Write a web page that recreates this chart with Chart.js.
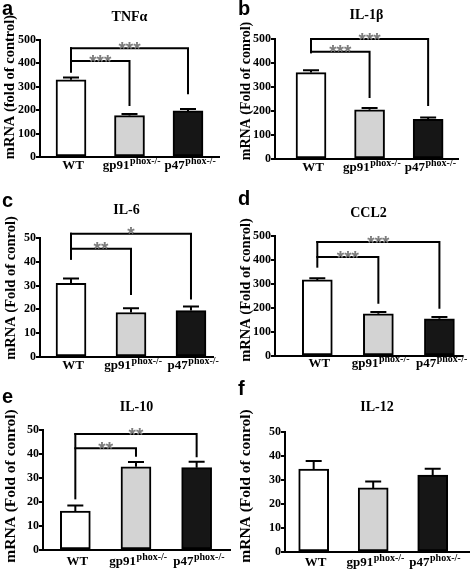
<!DOCTYPE html>
<html>
<head>
<meta charset="utf-8">
<script src="https://cdn.jsdelivr.net/npm/chart.js"></script>
<style>
  body { margin: 0; background: #fff; }
  #wrap { position: relative; width: 472px; height: 573px; overflow: hidden; }
  .cell { position: absolute; }
</style>
</head>
<body>
<div id="wrap"></div>
<script>
// groups on the x axis
const groups = ["WT", "gp91", "p47"];
const groupSup = ["", "phox-/-", "phox-/-"];
const barColors = ["#ffffff", "#d3d3d3", "#161616"];

const ticks500 = [0, 100, 200, 300, 400, 500];
const ticks50 = [0, 10, 20, 30, 40, 50];

// a. TNFa
const tnfMean = [330, 177, 197];
const tnfErr = [10, 7, 8];
const tnfSigTo = [1, 2];
const tnfSigStars = ["***", "***"];
const tnfSigLevel = [410, 465];
const tnfSigDrop = [218, 268];

// b. IL-1b
const il1bMean = [360, 205, 165];
const il1bErr = [10, 7, 8];
const il1bSigTo = [1, 2];
const il1bSigStars = ["***", "***"];
const il1bSigLevel = [447, 500];
const il1bSigDrop = [254, 221];

// c. IL-6
const il6Mean = [31, 18.7, 19.5];
const il6Err = [2, 1.8, 1.7];
const il6SigTo = [1, 2];
const il6SigStars = ["**", "*"];
const il6SigLevel = [45.5, 51.8];
const il6SigDrop = [26, 24.2];

// d. CCL2
const ccl2Mean = [317, 176, 155];
const ccl2Err = [7, 7, 8];
const ccl2SigTo = [1, 2];
const ccl2SigStars = ["***", "***"];
const ccl2SigLevel = [412, 475];
const ccl2SigDrop = [218, 197];

// e. IL-10
const il10Mean = [16.2, 34.7, 34.3];
const il10Err = [2.3, 2, 2.5];
const il10SigTo = [1, 2];
const il10SigStars = ["**", "**"];
const il10SigLevel = [42.4, 48.3];
const il10SigDrop = [38.9, 38.6];

// f. IL-12
const il12Mean = [34.6, 26.7, 32];
const il12Err = [3.3, 2.7, 2.7];

const serif = "'Liberation Serif', 'Times New Roman', serif";

// box = cell [left, top, w, h], plot = [left, top, right, bottom] in page px
// yTitle position = [centre x, centre y] inside the cell
const panels = [
  { letter: "a", title: "TNF\u03b1", yTitle: "mRNA (fold of control)", mean: tnfMean, err: tnfErr, ticks: ticks500,
    sig: { to: tnfSigTo, stars: tnfSigStars, level: tnfSigLevel, drop: tnfSigDrop, start: 360 },
    box: [0, 0, 236, 190], plot: [40, 40, 219, 157], xRange: [-0.53, 2.53],
    titleY: 17, letterY: 15, yTitlePos: [10, 87], yTitleSize: 14.5, labelDy: 9 },
  { letter: "b", title: "IL-1\u03b2", yTitle: "mRNA (Fold of conrol)", mean: il1bMean, err: il1bErr, ticks: ticks500,
    sig: { to: il1bSigTo, stars: il1bSigStars, level: il1bSigLevel, drop: il1bSigDrop, start: 440 },
    box: [236, 0, 236, 190], plot: [275, 39, 458, 159], xRange: [-0.615, 2.51],
    titleY: 15, letterY: 15, yTitlePos: [10, 91], yTitleSize: 14, labelDy: 9 },
  { letter: "c", title: "IL-6", yTitle: "mRNA (Fold of conrol)", mean: il6Mean, err: il6Err, ticks: ticks50,
    sig: { to: il6SigTo, stars: il6SigStars, level: il6SigLevel, drop: il6SigDrop, start: 40.8 },
    box: [0, 190, 236, 190], plot: [40, 238, 213, 357], xRange: [-0.517, 2.367],
    titleY: 20, letterY: 17, yTitlePos: [11, 98], yTitleSize: 14.5, labelDy: 9 },
  { letter: "d", title: "CCL2", yTitle: "mRNA (Fold of conrol)", mean: ccl2Mean, err: ccl2Err, ticks: ticks500,
    sig: { to: ccl2SigTo, stars: ccl2SigStars, level: ccl2SigLevel, drop: ccl2SigDrop, start: 368 },
    box: [236, 190, 236, 190], plot: [275, 236, 462, 356], xRange: [-0.693, 2.37],
    titleY: 23, letterY: 15, yTitlePos: [10, 100], yTitleSize: 14.5, labelDy: 8 },
  { letter: "e", title: "IL-10", yTitle: "mRNA (Fold of conrol)", mean: il10Mean, err: il10Err, ticks: ticks50,
    sig: { to: il10SigTo, stars: il10SigStars, level: il10SigLevel, drop: il10SigDrop, start: 21.1 },
    box: [0, 380, 236, 193], plot: [43, 430, 230, 550], xRange: [-0.533, 2.55],
    titleY: 27, letterY: 23, yTitlePos: [11, 106], yTitleSize: 15.5, labelDy: 12 },
  { letter: "f", title: "IL-12", yTitle: "mRNA (Fold of conrol)", mean: il12Mean, err: il12Err, ticks: ticks50,
    sig: null,
    box: [236, 380, 236, 193], plot: [285, 432, 469, 552], xRange: [-0.482, 2.61],
    titleY: 27, letterY: 15, yTitlePos: [10, 106], yTitleSize: 15.5, labelDy: 11 }
];

// error bars, brackets, x labels with superscripts, titles
const decor = {
  id: "decor",
  afterDatasetsDraw(chart) {
    const p = chart.options.plugins.decor;
    const ctx = chart.ctx, xs = chart.scales.x, ys = chart.scales.y;
    ctx.save();
    ctx.strokeStyle = "#000";
    ctx.lineWidth = 2;
    p.mean.forEach((m, i) => {
      const cx = xs.getPixelForValue(i);
      const y0 = ys.getPixelForValue(m);
      const y1 = ys.getPixelForValue(m + p.err[i]);
      ctx.beginPath();
      ctx.moveTo(cx, y0);
      ctx.lineTo(cx, y1);
      ctx.moveTo(cx - 8, y1);
      ctx.lineTo(cx + 8, y1);
      ctx.stroke();
    });
    ctx.restore();
  },
  afterDraw(chart) {
    const p = chart.options.plugins.decor;
    const ctx = chart.ctx, xs = chart.scales.x, ys = chart.scales.y;
    const area = chart.chartArea;
    ctx.save();

    // significance brackets
    const s = p.sig;
    if (s) {
      const x0 = xs.getPixelForValue(0);
      ctx.strokeStyle = "#000";
      ctx.lineWidth = 2;
      ctx.beginPath();
      ctx.moveTo(x0, ys.getPixelForValue(s.start));
      ctx.lineTo(x0, ys.getPixelForValue(Math.max(...s.level)) - 1);
      ctx.stroke();
      s.to.forEach((t, k) => {
        const xt = xs.getPixelForValue(t);
        const yl = ys.getPixelForValue(s.level[k]);
        ctx.beginPath();
        ctx.moveTo(x0 - 1, yl);
        ctx.lineTo(xt, yl);
        ctx.lineTo(xt, ys.getPixelForValue(s.drop[k]));
        ctx.stroke();
        ctx.fillStyle = "#7d7d7d";
        ctx.font = "bold 19px 'Liberation Sans'";
        ctx.textAlign = "center";
        ctx.textBaseline = "alphabetic";
        ctx.fillText(s.stars[k], (x0 + xt) / 2, yl + 6.5);
      });
    }

    // x labels: name + superscript, centred under each bar
    ctx.fillStyle = "#000";
    ctx.textBaseline = "middle";
    ctx.textAlign = "left";
    const ly = area.bottom + p.labelDy;
    groups.forEach((g, i) => {
      const baseFont = "bold 13px " + serif, supFont = "bold 10px " + serif;
      ctx.font = baseFont;
      const wb = ctx.measureText(g).width;
      ctx.font = supFont;
      const ws = groupSup[i] ? ctx.measureText(groupSup[i]).width : 0;
      const left = xs.getPixelForValue(i) + 2 - (wb + ws) / 2;
      ctx.font = baseFont;
      ctx.fillText(g, left, ly);
      if (groupSup[i]) {
        ctx.font = supFont;
        ctx.fillText(groupSup[i], left + wb + 0.5, ly - 4.5);
      }
    });

    // y axis title
    ctx.save();
    ctx.translate(p.yTitlePos[0], p.yTitlePos[1]);
    ctx.rotate(-Math.PI / 2);
    ctx.font = "bold " + p.yTitleSize + "px " + serif;
    ctx.textAlign = "center";
    ctx.textBaseline = "middle";
    ctx.fillText(p.yTitle, 0, 0);
    ctx.restore();

    // panel title
    ctx.font = "bold 14px " + serif;
    ctx.textAlign = "center";
    ctx.textBaseline = "middle";
    ctx.fillText(p.title, (area.left + area.right) / 2, p.titleY);

    // panel letter
    ctx.font = "bold 20px 'Liberation Sans'";
    ctx.textAlign = "left";
    ctx.textBaseline = "alphabetic";
    ctx.fillText(p.letter, 2, p.letterY);
    ctx.restore();
  }
};

const wrap = document.getElementById("wrap");

panels.forEach(p => {
  const [bl, bt, bw, bh] = p.box;
  const [pl, pt, pr, pb] = p.plot;
  const cell = document.createElement("div");
  cell.className = "cell";
  cell.style.left = bl + "px";
  cell.style.top = bt + "px";
  const canvas = document.createElement("canvas");
  canvas.width = bw;
  canvas.height = bh;
  cell.appendChild(canvas);
  wrap.appendChild(cell);

  new Chart(canvas, {
    type: "bar",
    data: {
      datasets: [{
        data: p.mean.map((v, i) => ({ x: i, y: v })),
        backgroundColor: barColors,
        borderColor: "#000",
        borderWidth: 2,
        borderSkipped: false,
        barThickness: 30
      }]
    },
    options: {
      responsive: false,
      animation: false,
      layout: { padding: { left: 0, top: pt - bt, right: bl + bw - pr, bottom: 0 } },
      plugins: {
        legend: { display: false },
        tooltip: { enabled: false },
        decor: { mean: p.mean, err: p.err, sig: p.sig, title: p.title, letter: p.letter,
                 titleY: p.titleY, letterY: p.letterY, yTitle: p.yTitle, yTitlePos: p.yTitlePos,
                 yTitleSize: p.yTitleSize, labelDy: p.labelDy }
      },
      scales: {
        x: {
          type: "linear",
          offset: false,
          min: p.xRange[0],
          max: p.xRange[1],
          afterBuildTicks: sc => { sc.ticks = groups.map((g, i) => ({ value: i })); },
          afterFit: sc => { sc.height = bt + bh - pb; },
          grid: { display: false, drawTicks: false, offset: false },
          border: { color: "#000", width: 2 },
          ticks: { display: false }
        },
        y: {
          min: 0,
          max: p.ticks[p.ticks.length - 1],
          afterBuildTicks: sc => { sc.ticks = p.ticks.map(v => ({ value: v })); },
          afterFit: sc => { sc.width = pl - bl; },
          grid: { drawOnChartArea: false, drawTicks: true, tickLength: 4, color: "#000", lineWidth: 2 },
          border: { color: "#000", width: 2 },
          ticks: {
            font: { family: serif, size: 12, weight: "bold" },
            color: "#000",
            padding: 0
          }
        }
      }
    },
    plugins: [decor]
  });
});
</script>
</body>
</html>
